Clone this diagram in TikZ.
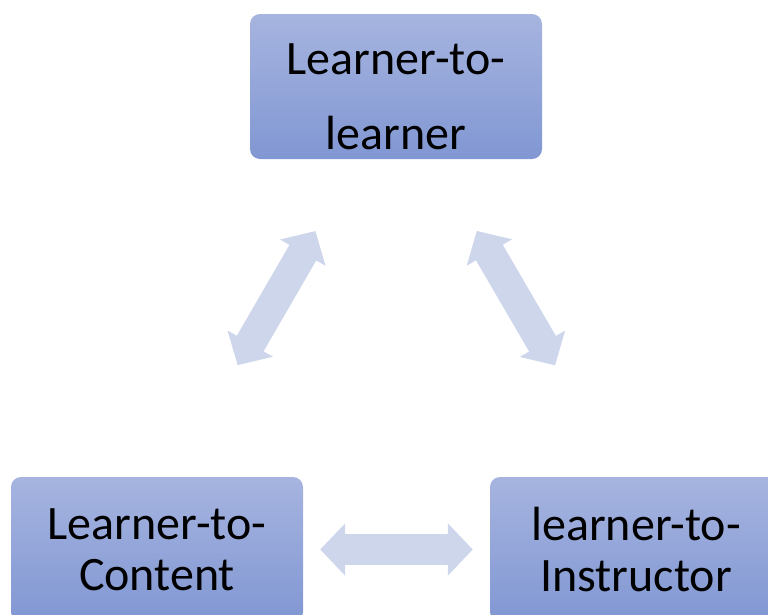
\documentclass[tikz,border=0pt]{standalone}
\usepackage{fontspec}
\setmainfont{Carlito}
\usepackage{tikz}
\usetikzlibrary{arrows.meta}

\definecolor{boxtop}{RGB}{166,180,223}
\definecolor{boxbottom}{RGB}{129,151,211}
\definecolor{linkfill}{RGB}{206,214,236}

\begin{document}
\begin{tikzpicture}[%
  x=1pt, y=-1pt,
  box/.style={rectangle, rounded corners=10pt, minimum width=292pt,
    minimum height=145pt, inner sep=0pt, align=center,
    top color=boxtop, bottom color=boxbottom,
    font=\fontsize{48}{51}\selectfont},
  link/.style={draw=linkfill, line width=31pt,
    {Triangle[width=51pt,length=25pt]}-{Triangle[width=51pt,length=25pt]}}
  ]
  \useasboundingbox (0,0) rectangle (768,614);
  \clip (0,0) rectangle (768,614);
  \node[box, font=\fontsize{48}{75}\selectfont] (learner) at (396,86.5)
    {\rule{0pt}{51pt}Learner-to-\\learner};
  \node[box] (content) at (157,549.5) {Learner-to-\\Content};
  \node[box] (instructor) at (636,549.5) {learner-to-\\Instructor};
  \draw[link, shorten <=83pt, shorten >=129pt]
    ([xshift=-39pt]learner.south) -- ([xshift=16pt]content.north);
  \draw[link, shorten <=83pt, shorten >=129pt]
    ([xshift=39pt]learner.south) -- ([xshift=-16pt]instructor.north);
  \draw[link, shorten <=17pt, shorten >=17pt] (content.east) -- (instructor.west);
\end{tikzpicture}
\end{document}
